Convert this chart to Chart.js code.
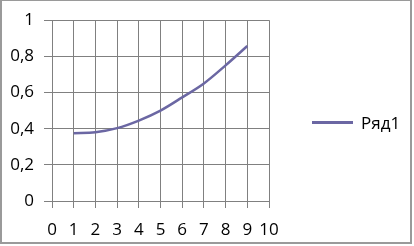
<!DOCTYPE html>
<html>
<head>
<meta charset="utf-8">
<script src="https://cdn.jsdelivr.net/npm/chart.js@4/dist/chart.umd.min.js"></script>
<style>
    html, body { margin: 0; padding: 0; background: #fff; }
    #wrap { position: relative; width: 414px; height: 246px; }
    #frame {
        position: absolute; left: 0; top: 0; width: 412px; height: 244px;
        box-sizing: border-box; border: 2px solid #9a9a9a; border-top-width: 1px;
        pointer-events: none;
    }
    #legend {
        position: absolute; left: 312px; top: 111px;
        font: 17px "Open Sans", "Liberation Sans", sans-serif; color: #000;
        display: flex; align-items: center;
    }
    #legend .swatch { width: 41px; height: 3px; margin-right: 8px; }
</style>
</head>
<body>
<div id="wrap">
    <canvas id="chart" width="414" height="246"></canvas>
    <div id="frame"></div>
    <div id="legend"></div>
</div>
<script>
// data
const xValues = [1, 2, 3, 4, 5, 6, 7, 8, 9];
const yValues = [0.375, 0.38, 0.403, 0.445, 0.5, 0.573, 0.65, 0.75, 0.857];
const seriesName = 'Ряд1';
const xTicks = [0, 1, 2, 3, 4, 5, 6, 7, 8, 9, 10];
const yTicks = [0, 0.2, 0.4, 0.6, 0.8, 1];

const lineColor = '#6b67a3';
const gridColor = '#808080';
const font = { family: '"Open Sans", "Liberation Sans", sans-serif', size: 17 };

const points = xValues.map((x, i) => ({ x: x, y: yValues[i] }));

const chart = new Chart(document.getElementById('chart'), {
    type: 'scatter',
    data: {
        datasets: [{
            label: seriesName,
            data: points,
            showLine: true,
            borderColor: lineColor,
            borderWidth: 2.5,
            pointRadius: 0,
            tension: 0.4,
            cubicInterpolationMode: 'monotone'
        }]
    },
    options: {
        responsive: false,
        animation: false,
        layout: { padding: { left: 0, right: 145, top: 15, bottom: 0 } },
        plugins: { legend: { display: false }, tooltip: { enabled: false } },
        scales: {
            x: {
                type: 'linear', min: 0, max: 10,
                afterBuildTicks: s => { s.ticks = xTicks.map(v => ({ value: v })); },
                afterFit: s => { s.height = 45; },
                grid: { color: gridColor, lineWidth: 1, tickLength: 7, drawTicks: true },
                border: { color: gridColor, width: 1 },
                ticks: { color: '#000', font: font, padding: 12, maxRotation: 0, autoSkip: false }
            },
            y: {
                type: 'linear', min: 0, max: 1,
                afterBuildTicks: s => { s.ticks = yTicks.map(v => ({ value: v })); },
                afterFit: s => { s.width = 52; },
                grid: { color: gridColor, lineWidth: 1, tickLength: 8, drawTicks: true },
                border: { color: gridColor, width: 1 },
                ticks: {
                    color: '#000', font: font, padding: 10, autoSkip: false,
                    callback: v => String(v).replace('.', ',')
                }
            }
        }
    }
});

// legend built from the dataset
const legend = document.getElementById('legend');
chart.data.datasets.forEach(ds => {
    legend.innerHTML += `<span class="swatch" style="background:${ds.borderColor}"></span><span>${ds.label}</span>`;
});
</script>
</body>
</html>
